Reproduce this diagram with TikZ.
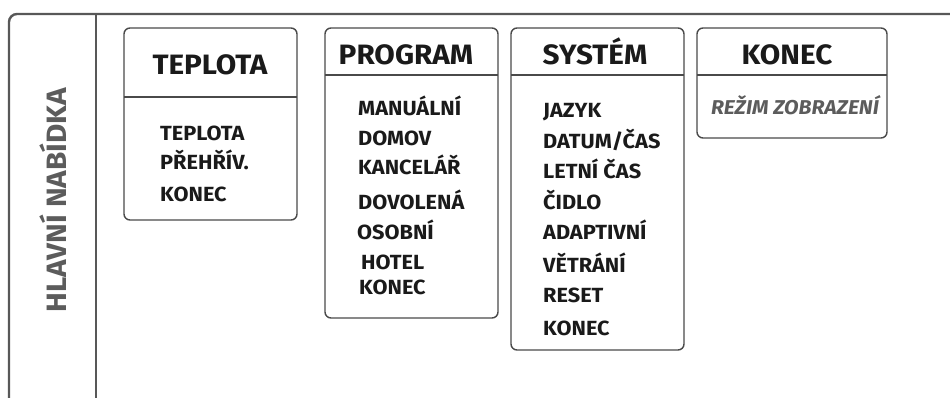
\documentclass[tikz,border=0pt]{standalone}
\usepackage{fontspec}
\setmainfont{Fira Sans}[FakeStretch=1.06]
\definecolor{framegray}{HTML}{585858}
\definecolor{boxgray}{HTML}{4A4A4A}
\definecolor{textdark}{HTML}{1A1A1A}
\definecolor{labelgray}{HTML}{5C5C5C}

\begin{document}
\begin{tikzpicture}[x=1pt,y=-1pt,
    menubox/.style={draw=boxgray, line width=1.4pt, rounded corners=6pt},
    headline/.style={draw=boxgray, line width=1.2pt},
    boxtitle/.style={anchor=base, inner sep=0pt, font=\fontsize{28}{28}\selectfont\bfseries, text=textdark},
    entry/.style={anchor=base west, inner sep=0pt, font=\fontsize{20.5}{20.5}\selectfont\bfseries, text=textdark}]

    \useasboundingbox (0,0) rectangle (950,398);

    % Outer frame and the divider of the side strip
    \draw[framegray, line width=2.4pt, rounded corners=8pt] (9,398) -- (9,14) -- (950,14);
    \draw[framegray, line width=2.4pt] (96,14) -- (96,398);

    % Side label
    \node[rotate=90, text=labelgray, font=\fontsize{28}{28}\selectfont\bfseries] (main) at (53,200) {HLAVNÍ NABÍDKA};

    % Corners of the four menu boxes
    \coordinate (T1) at (124,28);
    \coordinate (T2) at (297,220);
    \coordinate (P1) at (325,28);
    \coordinate (P2) at (498,318);
    \coordinate (S1) at (511,28);
    \coordinate (S2) at (684,350);
    \coordinate (K1) at (697,28);
    \coordinate (K2) at (887,138);

    % Draw the boxes with their header lines
    \draw[menubox] (T1) rectangle (T2);
    \draw[headline] (124,97) -- (297,97);
    \draw[menubox] (P1) rectangle (P2);
    \draw[headline] (325,75) -- (498,75);
    \draw[menubox] (S1) rectangle (S2);
    \draw[headline] (511,75) -- (684,75);
    \draw[menubox] (K1) rectangle (K2);
    \draw[headline] (697,75) -- (887,75);

    % Box titles (placed on their baselines)
    \node[boxtitle] (teplota) at (210,75) {TEPLOTA};
    \node[boxtitle] (program) at (406,65) {PROGRAM};
    \node[boxtitle] (system) at (595,65) {SYSTÉM};
    \node[boxtitle] (konec) at (787,65) {KONEC};

    % Entries of TEPLOTA
    \node[entry] (t1) at (160,141) {TEPLOTA};
    \node[entry] (t2) at (160,170) {PŘEHŘÍV.};
    \node[entry] (t3) at (160,202) {KONEC};

    % Entries of PROGRAM
    \node[entry] (p1) at (358,116) {MANUÁLNÍ};
    \node[entry] (p2) at (358,146) {DOMOV};
    \node[entry] (p3) at (358,175) {KANCELÁŘ};
    \node[entry] (p4) at (358,209) {DOVOLENÁ};
    \node[entry] (p5) at (357,240) {OSOBNÍ};
    \node[entry] (p6) at (361,269) {HOTEL};
    \node[entry] (p7) at (359,294) {KONEC};

    % Entries of SYSTEM
    \node[entry] (s1) at (543,118) {JAZYK};
    \node[entry] (s2) at (543,149) {DATUM/ČAS};
    \node[entry] (s3) at (543,179) {LETNÍ ČAS};
    \node[entry] (s4) at (543,209) {ČIDLO};
    \node[entry] (s5) at (543,240) {ADAPTIVNÍ};
    \node[entry] (s6) at (543,272) {VĚTRÁNÍ};
    \node[entry] (s7) at (543,302) {RESET};
    \node[entry] (s8) at (543,335) {KONEC};

    % Entry of KONEC
    \node[anchor=base, inner sep=0pt, text=labelgray, font=\fontsize{20}{20}\selectfont\bfseries\itshape] (k1) at (795,115) {REŽIM ZOBRAZENÍ};

\end{tikzpicture}
\end{document}
